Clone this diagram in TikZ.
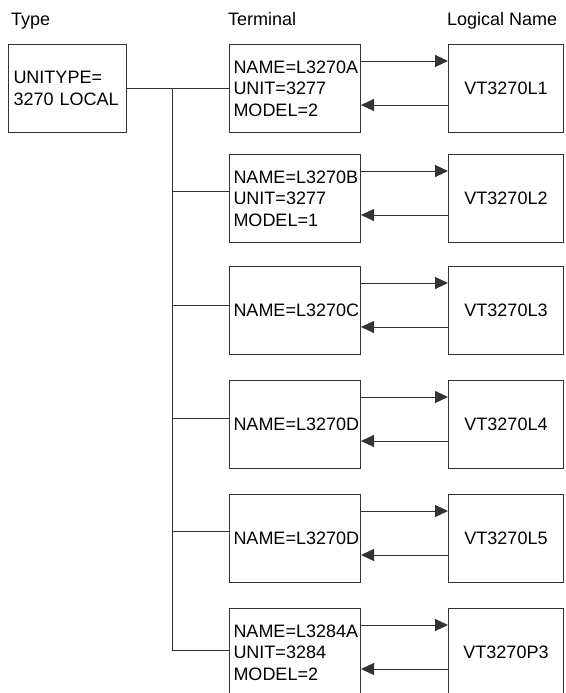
\documentclass[tikz,border=0pt]{standalone}
\usepackage{fontspec}
\setmainfont{Liberation Sans}
\usetikzlibrary{arrows.meta,calc}
\begin{document}
\begin{tikzpicture}[x=1pt,y=-1pt,
  every node/.style={font=\fontsize{18}{21.5}\selectfont},
  box/.style={draw=black!80,line width=1pt,rectangle,anchor=north west,minimum height=88pt,inner sep=0pt},
  termbox/.style={box,text width=123pt,minimum width=131pt,inner xsep=4pt,align=left},
  logbox/.style={box,minimum width=115pt,align=center},
  typebox/.style={box,text width=108pt,minimum width=118pt,inner xsep=5pt,align=left},
  hdr/.style={anchor=west,inner sep=0pt},
  conn/.style={draw=black!80,line width=0.9pt},
  arr/.style={conn,-{Triangle[length=13pt,width=12pt]}}
]
\useasboundingbox (0,0) rectangle (565,693);
\clip (0,0) rectangle (565,693);

\node[hdr] (hType) at (11,21) {Type};
\node[hdr] (hTerm) at (228,19) {Terminal};
\node[hdr] (hLog) at (447,21) {Logical Name};

\node[typebox] (ty) at (8,44) {UNITYPE=\\3270 LOCAL};

\node[termbox] (t1) at (229,44) {NAME=L3270A\\UNIT=3277\\MODEL=2};
\node[termbox] (t2) at (229,154) {NAME=L3270B\\UNIT=3277\\MODEL=1};
\node[termbox] (t3) at (229,266) {NAME=L3270C};
\node[termbox] (t4) at (229,380) {NAME=L3270D};
\node[termbox] (t5) at (229,494) {NAME=L3270D};
\node[termbox] (t6) at (229,608) {NAME=L3284A\\UNIT=3284\\MODEL=2};

\node[logbox] (l1) at (448,44) {VT3270L1};
\node[logbox] (l2) at (448,154) {VT3270L2};
\node[logbox] (l3) at (448,266) {VT3270L3};
\node[logbox] (l4) at (448,380) {VT3270L4};
\node[logbox] (l5) at (448,494) {VT3270L5};
\node[logbox] (l6) at (448,608) {VT3270P3};

\coordinate (j1) at (172,88);
\coordinate (j2) at (172,191);
\coordinate (j3) at (172,305);
\coordinate (j4) at (172,418);
\coordinate (j5) at (172,531);
\coordinate (j6) at (172,650);

\draw[conn] (ty.east) -- (t1.west);
\draw[conn] (j1) -- (j6);
\foreach \i in {2,...,6}{
  \draw[conn] (j\i) -- (j\i -| t\i.west);
}
\foreach \i in {1,...,6}{
  \draw[arr] ([yshift=-17pt]t\i.north east) -- ([yshift=-17pt]l\i.north west);
  \draw[arr] ([yshift=-61pt]l\i.north west) -- ([yshift=-61pt]t\i.north east);
}
\end{tikzpicture}
\end{document}
